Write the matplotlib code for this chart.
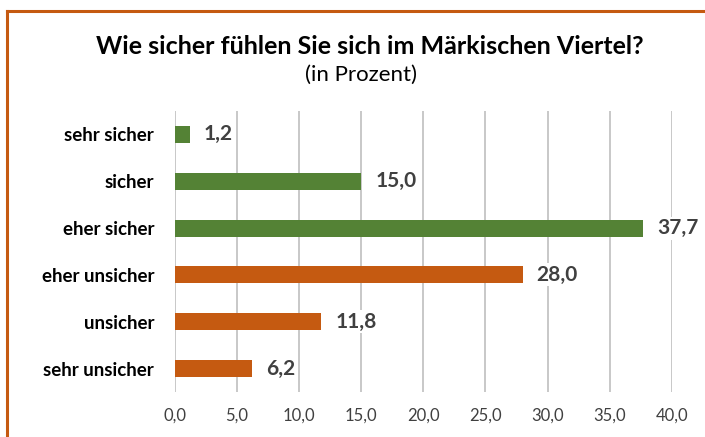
import matplotlib.pyplot as plt
from matplotlib.lines import Line2D

categories = ['sehr sicher', 'sicher', 'eher sicher', 'eher unsicher', 'unsicher', 'sehr unsicher']
values = [1.2, 15.0, 37.7, 28.0, 11.8, 6.2]
colors = ['#548235', '#548235', '#548235', '#C55A11', '#C55A11', '#C55A11']
ticks = [0, 5, 10, 15, 20, 25, 30, 35, 40]

plt.rcParams['font.family'] = ['Lato', 'DejaVu Sans']

fig = plt.figure(figsize=(7.05, 4.37), dpi=100)
ax = fig.add_axes([0.248, 0.103, 0.705, 0.643])

ypos = list(range(len(categories)))
ax.barh(ypos, values, height=0.36, color=colors, zorder=2)
ax.set_ylim(len(categories) - 0.5, -0.5)
ax.set_xlim(0, 40)
ax.set_yticks(ypos)
ax.set_yticklabels(categories, fontsize=13.5, fontweight='bold', color='black')
ax.set_xticks(ticks)
ax.set_xticklabels([('%.1f' % t).replace('.', ',') for t in ticks], fontsize=12, color='#404040')
ax.tick_params(length=0, pad=11)
ax.tick_params(axis='y', pad=15)
ax.grid(axis='x', color='#BFBFBF', linewidth=1.2, zorder=0)
for s in ax.spines.values():
    s.set_visible(False)

for y, v in zip(ypos, values):
    ax.annotate(('%.1f' % v).replace('.', ','), xy=(v, y), xytext=(10, 0),
                textcoords='offset points', va='center', ha='left',
                fontsize=15, fontweight='bold', color='#404040', zorder=3,
                bbox=dict(facecolor='white', edgecolor='none', pad=1))

fig.text(0.525, 0.893, 'Wie sicher fühlen Sie sich im Märkischen Viertel?',
         ha='center', va='center', fontsize=18, fontweight='bold', color='black')
fig.text(0.512, 0.828, '(in Prozent)', ha='center', va='center', fontsize=16, color='black')

# orange frame (left and top edges)
fig.add_artist(Line2D([6.5 / 705, 6.5 / 705], [0, 1 - 11 / 437], color='#C55A11', linewidth=2.2,
                      transform=fig.transFigure))
fig.add_artist(Line2D([6.5 / 705, 1], [1 - 11 / 437, 1 - 11 / 437], color='#C55A11', linewidth=2.2,
                      transform=fig.transFigure))

plt.savefig('out.png', dpi=100)
